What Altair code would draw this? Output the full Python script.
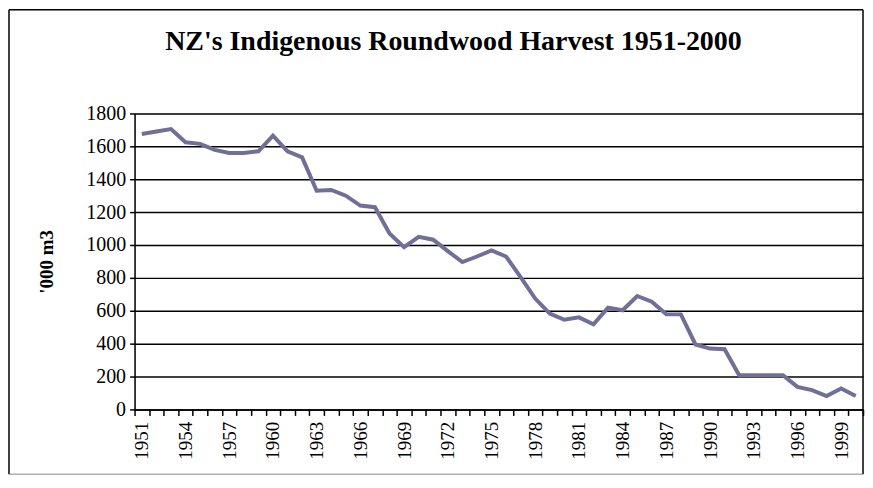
import altair as alt
import pandas as pd

years = [1951, 1952, 1953, 1954, 1955, 1956, 1957, 1958, 1959, 1960,
         1961, 1962, 1963, 1964, 1965, 1966, 1967, 1968, 1969, 1970,
         1971, 1972, 1973, 1974, 1975, 1976, 1977, 1978, 1979, 1980,
         1981, 1982, 1983, 1984, 1985, 1986, 1987, 1988, 1989, 1990,
         1991, 1992, 1993, 1994, 1995, 1996, 1997, 1998, 1999, 2000]
harvest = [1675, 1690, 1705, 1625, 1615, 1578, 1560, 1560, 1570, 1665,
           1570, 1533, 1330, 1335, 1300, 1240, 1230, 1070, 987, 1050,
           1032, 963, 896, 930, 967, 930, 805, 674, 583, 545,
           560, 518, 619, 603, 690, 655, 578, 578, 395, 370,
           366, 208, 208, 208, 208, 137, 117, 81, 127, 81]
y_ticks = [0, 200, 400, 600, 800, 1000, 1200, 1400, 1600, 1800]
x_label_years = [1951, 1954, 1957, 1960, 1963, 1966, 1969, 1972, 1975,
                 1978, 1981, 1984, 1987, 1990, 1993, 1996, 1999]
title_text = "NZ's Indigenous Roundwood Harvest 1951-2000"

df = pd.DataFrame({"year": years, "harvest": harvest})

W, H = 731, 297
FONT = "Liberation Serif"
boundaries = [y - 0.5 for y in years] + [years[-1] + 0.5]
label_expr = ("indexof([" + ",".join(str(v) for v in x_label_years) +
              "], datum.value + 0.5) >= 0 ? toString(datum.value + 0.5) : ''")
half_band = W / len(years) / 2

line = alt.Chart(df).mark_line(color="#6f6f98", strokeWidth=4).encode(
    x=alt.X("year:Q",
            scale=alt.Scale(domain=[boundaries[0], boundaries[-1]], nice=False, zero=False),
            axis=alt.Axis(values=boundaries, labelExpr=label_expr, labelAngle=270,
                          labelOffset=half_band, title=None, grid=False, tickSize=6,
                          tickColor="black", tickWidth=1.5, domainColor="black",
                          domainWidth=1.5, labelFont=FONT, labelFontSize=19,
                          labelColor="black", labelPadding=6, labelOverlap=False,
                          labelFlush=False)),
    y=alt.Y("harvest:Q",
            scale=alt.Scale(domain=[0, 1800], nice=False),
            axis=alt.Axis(values=y_ticks, format="d", title="'000 m3", grid=True,
                          gridColor="black", gridWidth=1.5, tickSize=5, tickColor="black",
                          tickWidth=1.5, domainColor="black", domainWidth=1.5,
                          labelFont=FONT, labelFontSize=20, labelColor="black",
                          labelPadding=4, titleFont=FONT, titleFontSize=19,
                          titleFontWeight="bold", titleColor="black", titleAngle=270,
                          titleX=-88, titleY=H / 2, titleBaseline="middle")),
)

single = alt.Data(values=[{"k": 0}])
title = alt.Chart(single).mark_text(
    font=FONT, fontSize=28, fontWeight="bold", color="black",
    align="center", baseline="alphabetic").encode(
    x=alt.value(320), y=alt.value(-64), text=alt.value(title_text))

frame_left = alt.Chart(single).mark_rule(color="black", strokeWidth=1.5).encode(
    x=alt.value(-126), y=alt.value(-104), y2=alt.value(362))
frame_top = alt.Chart(single).mark_rule(color="black", strokeWidth=1.5).encode(
    x=alt.value(-126), x2=alt.value(731), y=alt.value(-104))
frame_right = alt.Chart(single).mark_rule(color="black", strokeWidth=1.5).encode(
    x=alt.value(731), y=alt.value(-104), y2=alt.value(362))
frame_bottom = alt.Chart(single).mark_rule(color="#888888", strokeWidth=1).encode(
    x=alt.value(-126), x2=alt.value(731), y=alt.value(362))

chart = alt.layer(line, title, frame_left, frame_top, frame_right, frame_bottom).properties(
    width=W, height=H,
    padding={"left": 127, "top": 105, "right": 2, "bottom": 66},
    autosize="none",
).configure_view(stroke="black", strokeWidth=1.5).configure(background="white")

chart.save("out.html", embed_options={"renderer": "svg", "actions": False})
